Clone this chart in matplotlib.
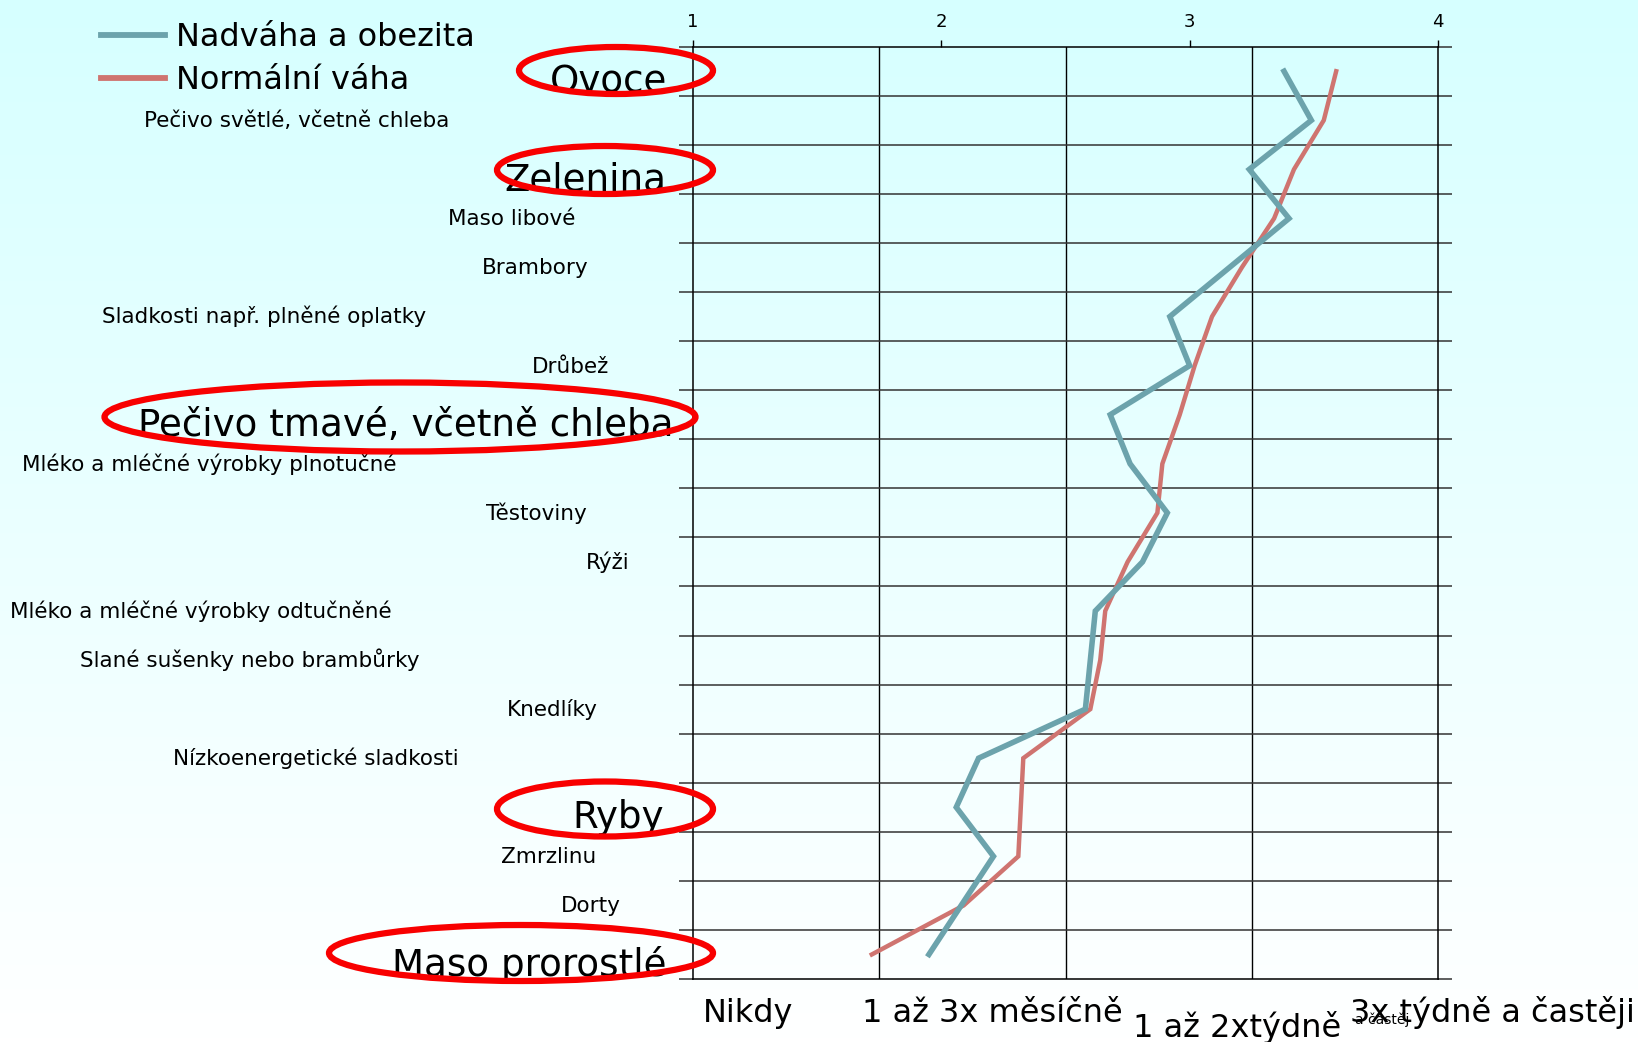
import numpy as np
import matplotlib
matplotlib.use("Agg")
from matplotlib import pyplot as plt
from matplotlib.patches import Ellipse
from matplotlib import transforms

categories = ["Ovoce", "Pečivo světlé, včetně chleba", "Zelenina", "Maso libové",
              "Brambory", "Sladkosti např. plněné oplatky", "Drůbež",
              "Pečivo tmavé, včetně chleba", "Mléko a mléčné výrobky plnotučné",
              "Těstoviny", "Rýži", "Mléko a mléčné výrobky odtučněné",
              "Slané sušenky nebo brambůrky", "Knedlíky", "Nízkoenergetické sladkosti",
              "Ryby", "Zmrzlinu", "Dorty", "Maso prorostlé"]
highlighted = ["Ovoce", "Zelenina", "Pečivo tmavé, včetně chleba", "Ryby", "Maso prorostlé"]

overweight = [3.38, 3.49, 3.24, 3.40, 3.16, 2.92, 3.00, 2.68, 2.76, 2.91,
              2.81, 2.62, 2.60, 2.58, 2.15, 2.06, 2.21, 2.08, 1.95]
normal = [3.59, 3.54, 3.42, 3.34, 3.21, 3.09, 3.02, 2.96, 2.89, 2.87,
          2.75, 2.66, 2.64, 2.60, 2.33, 2.32, 2.31, 2.09, 1.72]

series_names = ["Nadváha a obezita", "Normální váha"]
top_ticks = [1, 2, 3, 4]
freq_labels = ["Nikdy", "1 až 3x měsíčně", "1 až 2xtýdně", "3x týdně a častěji"]

W, H = 1638, 1042
fig = plt.figure(figsize=(W / 100, H / 100), dpi=100)

# background gradient
bg = fig.add_axes([0, 0, 1, 1], zorder=-10)
bg.axis("off")
top_c = np.array([214, 255, 255]) / 255
bot_c = np.array([255, 255, 255]) / 255
t = np.linspace(0, 1, 256)[:, None]
grad = top_c * (1 - t[..., None]) + bot_c * t[..., None]
grad = np.repeat(grad, 2, axis=1)
bg.imshow(grad, aspect="auto", extent=[0, 1, 0, 1])

ax = fig.add_axes([693 / W, 1 - 979 / H, (1438 - 693) / W, (979 - 46.7) / H])
ax.set_facecolor("none")

n = len(categories)
ypos = np.arange(n) + 0.5
teal = "#6ca3ac"
red = "#cf7470"
l1, = ax.plot(overweight, ypos, color=teal, lw=4.0, solid_joinstyle="miter", zorder=4)
l2, = ax.plot(normal, ypos, color=red, lw=3.2, solid_joinstyle="miter", zorder=3)

ax.set_xlim(1, 4)
ax.set_ylim(n, 0)

# grid
for gx in np.linspace(1, 4, 5)[1:-1]:
    ax.axvline(gx, color="black", lw=1.0, zorder=1)
for gy in range(1, n):
    ax.axhline(gy, color="#333333", lw=1.1, zorder=1)
for s in ax.spines.values():
    s.set_color("black")
    s.set_linewidth(1.1)

ax.set_yticks(range(n + 1))
ax.set_yticklabels([])
ax.tick_params(axis="y", left=True, right=True, length=10, color="#333333", width=1.1)

ax.xaxis.tick_top()
ax.set_xticks(top_ticks)
ax.set_xticklabels([str(v) for v in top_ticks])
ax.tick_params(axis="x", length=5, pad=6, labelsize=13, width=1.0)

# category labels
label_x = [550, 143.8, 504.5, 447.8, 482, 101.8, 532, 137.5, 22.3, 485.7,
           586, 9.8, 80.4, 506.7, 172.8, 572.3, 501, 561, 392]
tr = transforms.blended_transform_factory(fig.transFigure, ax.transData)
for i, (name, lx) in enumerate(zip(categories, label_x)):
    big = name in highlighted
    ax.text(lx / W, i + 0.5 + (0.43 if big else 0.14), name, transform=tr,
            fontsize=26.8 if big else 15.5, ha="left", va="baseline",
            clip_on=False, color="black")

# red circles around highlighted labels (figure pixels: cx, cy, w, h)
ellipses = [(616, 70.5, 194, 47), (605, 170, 216, 48), (400, 417, 591, 69),
            (605, 809, 216, 55), (521, 953, 384, 56)]
for cx, cy, ew, eh in ellipses:
    fig.patches.append(Ellipse((cx / W, 1 - cy / H), ew / W, eh / H,
                               transform=fig.transFigure, fill=False,
                               edgecolor="#f80000", lw=4.5, zorder=10))

# frequency labels under the chart
fx = [702.6, 861.5, 1133, 1350]
fy = [1022, 1022, 1036.7, 1021.7]
for lab, x, y in zip(freq_labels, fx, fy):
    fig.text(x / W, 1 - y / H, lab, fontsize=23, ha="left", va="baseline")
fig.text(1354.7 / W, 1 - 1024 / H, "a častěj", fontsize=10, ha="left", va="baseline")

fig.legend([l1, l2], series_names, loc="upper left",
           bbox_to_anchor=(101 / W, 1 - 22 / H), frameon=False, fontsize=23,
           handlelength=2.0, handletextpad=0.36, labelspacing=0.38, borderpad=0,
           borderaxespad=0)
for h in fig.legends[0].legend_handles:
    h.set_linewidth(4.2)

fig.savefig("out.png", dpi=100)
